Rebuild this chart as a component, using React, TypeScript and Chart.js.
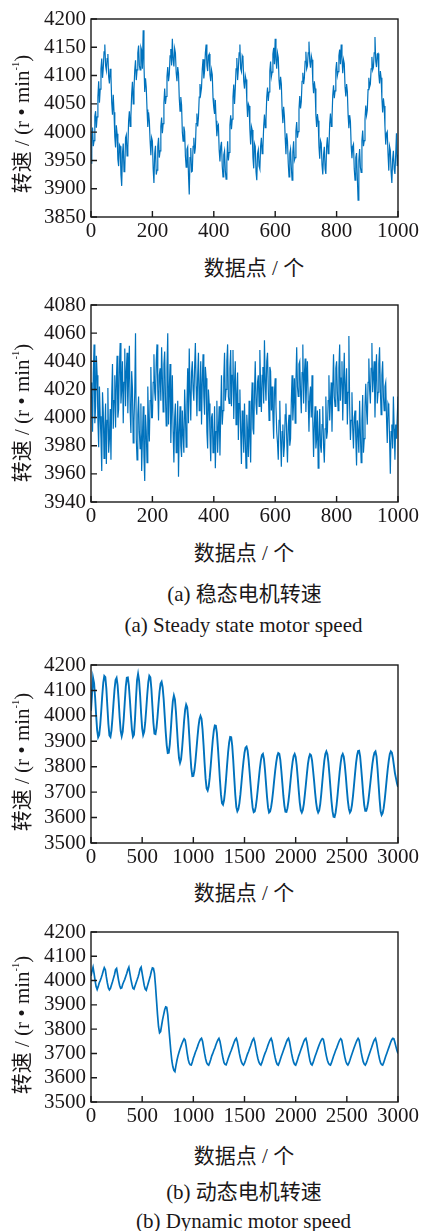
import React, { useEffect, useRef } from 'react';
import { Chart, registerables } from 'chart.js';

Chart.register(...registerables);

// ---------- data ----------
const STEP_STEADY = 2.5;
const STEP_DYNAMIC = 10;

const STEADY_SPEED_1 = [
  3945, 3992, 4008, 3975, 3985, 4028, 4037, 4008, 4027, 4062, 4090, 4052, 4076, 4112, 4130, 4096, 4113, 4142, 4155, 4118,
  4109, 4130, 4138, 4098, 4086, 4112, 4100, 4052, 4031, 4066, 4035, 3992, 3973, 4012, 3997, 3952, 3940, 3978, 3975, 3925,
  3905, 3962, 3980, 3930, 3932, 3990, 3995, 3958, 3972, 4020, 4037, 4010, 4029, 4068, 4089, 4050, 4076, 4110, 4127, 4092,
  4110, 4140, 4153, 4118, 4110, 4150, 4145, 4112, 4180, 4120, 4071, 4095, 4079, 4040, 4009, 4035, 4020, 3985, 3959, 3990,
  3984, 3935, 3910, 3962, 3976, 3925, 3933, 3975, 3990, 3955, 3967, 4010, 4026, 3998, 4015, 4052, 4077, 4050, 4063, 4098,
  4115, 4090, 4102, 4135, 4147, 4118, 4165, 4128, 4116, 4148, 4140, 4105, 4090, 4115, 4104, 4060, 4037, 4062, 4048, 4000,
  3984, 4010, 4001, 3958, 3938, 3970, 3974, 3925, 3890, 3955, 3972, 3930, 3931, 3975, 3990, 3962, 3973, 4015, 4033, 4010,
  4026, 4062, 4085, 4068, 4078, 4112, 4129, 4095, 4108, 4140, 4155, 4118, 4108, 4135, 4138, 4102, 4090, 4110, 4102, 4060,
  4043, 4032, 4057, 4020, 3993, 4010, 4013, 3968, 3948, 3975, 3983, 3940, 3921, 3960, 3967, 3932, 3917, 3948, 3984, 3950,
  3964, 4012, 4030, 4005, 4023, 4062, 4084, 4050, 4077, 4112, 4131, 4092, 4112, 4140, 4155, 4112, 4107, 4135, 4131, 4090,
  4077, 4100, 4093, 4055, 4027, 4050, 4046, 4005, 3978, 4010, 4004, 3955, 3936, 3980, 3975, 3930, 3915, 3962, 3969, 3940,
  3935, 3975, 3990, 3962, 3973, 4010, 4031, 4008, 4022, 4062, 4079, 4055, 4071, 4108, 4125, 4098, 4106, 4138, 4149, 4120,
  4165, 4128, 4112, 4140, 4132, 4092, 4075, 4098, 4085, 4040, 4016, 4045, 4028, 3990, 3961, 3998, 3984, 3945, 3921, 3962,
  3970, 3938, 3915, 3965, 3984, 3950, 3955, 4002, 4018, 3990, 4001, 4040, 4064, 4042, 4054, 4090, 4105, 4085, 4096, 4125,
  4142, 4112, 4117, 4140, 4160, 4125, 4114, 4135, 4128, 4088, 4069, 4090, 4077, 4030, 4009, 4032, 4020, 3975, 3953, 3985,
  3980, 3942, 3925, 3960, 3974, 3935, 3926, 3975, 3991, 3962, 3971, 4015, 4033, 4010, 4025, 4065, 4083, 4060, 4073, 4110,
  4124, 4100, 4107, 4135, 4146, 4120, 4155, 4132, 4104, 4128, 4121, 4080, 4063, 4085, 4072, 4030, 4007, 4030, 4019, 3975,
  3954, 3975, 3979, 3935, 3915, 3955, 3963, 3920, 3880, 3950, 3970, 3938, 3929, 3985, 4003, 3975, 3985, 4022, 4047, 4030,
  4039, 4075, 4096, 4080, 4085, 4112, 4133, 4110, 4115, 4140, 4168, 4125, 4115, 4138, 4139, 4102, 4086, 4108, 4096, 4060,
  4035, 4060, 4046, 4010, 3978, 3998, 4001, 3962, 3932, 3975, 3968, 3930, 3910, 3952, 3967, 3935, 3926, 3960, 3998, 3940,
  3960,
];

const STEADY_SPEED_2 = [
  4025, 4012, 3990, 4031, 4052, 3996, 4008, 4044, 4030, 3998, 3979, 4022, 4001, 3985, 3962, 4018, 4004, 3971, 3992, 4010,
  3967, 3998, 4021, 3975, 3985, 4006, 3970, 4016, 4038, 3992, 4012, 4030, 3993, 4025, 4044, 4000, 4006, 4035, 4053, 4010,
  4020, 4040, 3996, 4025, 4049, 4008, 4033, 4046, 4003, 4030, 4051, 4005, 3989, 4033, 4021, 3982, 3997, 4018, 4060, 3985,
  3970, 4002, 4015, 3990, 3978, 4010, 3962, 3985, 4008, 3972, 3955, 4002, 3990, 3968, 4022, 3996, 3983, 4012, 4036, 4000,
  4000, 4025, 4045, 4018, 4012, 4040, 4052, 4020, 3998, 4030, 4035, 4012, 4050, 4028, 4004, 4038, 4047, 4015, 3994, 4035,
  4060, 3995, 4019, 4038, 3982, 4005, 4030, 3990, 3968, 4000, 4010, 3975, 3985, 4012, 3958, 3990, 4008, 3980, 3972, 4005,
  3988, 3975, 4020, 4002, 3979, 4010, 4035, 3996, 4049, 4018, 3998, 4032, 4040, 4020, 4012, 4036, 4053, 4022, 4001, 4030,
  4046, 4005, 4018, 4040, 3995, 4025, 4045, 4015, 4002, 4036, 4028, 3990, 3978, 4020, 4010, 3988, 3969, 4000, 4003, 3975,
  3980, 4008, 3964, 3990, 4012, 3975, 3992, 4008, 3973, 4002, 4030, 3995, 4005, 4028, 4046, 4012, 4020, 4040, 4052, 4015,
  4010, 4035, 4048, 4008, 4030, 4048, 3999, 4025, 4040, 3995, 4015, 4032, 3984, 4010, 4020, 3990, 3967, 4005, 3994, 3975,
  4010, 3985, 3964, 4002, 3990, 3972, 4012, 3985, 3968, 4008, 4025, 3992, 3988, 4018, 4040, 4010, 4002, 4025, 4030, 4008,
  4048, 4022, 4004, 4030, 4036, 4010, 4055, 4025, 4012, 4040, 4046, 4020, 3998, 4036, 4033, 4005, 4022, 4002, 3985, 4018,
  4028, 4008, 3990, 3982, 3970, 3998, 4012, 3985, 3965, 3990, 3995, 3972, 3980, 4002, 4010, 3985, 3968, 3994, 4002, 3980,
  3985, 4012, 4030, 3998, 4011, 4028, 3996, 4025, 4050, 4022, 4015, 4038, 4040, 4018, 4003, 4032, 4052, 4010, 4030, 4042,
  4004, 4028, 4040, 4012, 3990, 4015, 4022, 4000, 4030, 3998, 3972, 3996, 4008, 3978, 3985, 4005, 3964, 3985, 4006, 3980,
  3975, 3995, 4008, 3980, 3968, 3992, 4015, 3985, 3990, 4012, 4030, 3998, 4012, 4025, 3990, 4020, 4045, 4015, 4008, 4035,
  4040, 4018, 4005, 4035, 4052, 4012, 4028, 4040, 3998, 4025, 4046, 4010, 4020, 4035, 3995, 4018, 4058, 4008, 3984, 3998,
  4018, 3992, 3978, 4000, 4005, 3985, 3966, 3998, 3990, 3975, 4012, 3988, 3968, 3998, 4016, 3975, 3985, 4008, 4024, 4005,
  3995, 4025, 4042, 4020, 4010, 4035, 4053, 4018, 4030, 4040, 4000, 4028, 4045, 4010, 4018, 4038, 4050, 4020, 4002, 4030,
  4040, 4015, 4005, 4022, 4025, 4000, 3982, 4010, 4008, 3985, 3960, 3990, 3995, 3978, 4015, 3992, 3970, 3995, 3985, 4000,
  4015,
];

const DYNAMIC_SPEED_1 = [
  4020, 4085, 4150, 4129, 4074, 4004, 3944, 3916, 3925, 3963,
  4019, 4080, 4131, 4157, 4152, 4107, 4037, 3968, 3923, 3917,
  3943, 3992, 4050, 4104, 4141, 4149, 4121, 4063, 3994, 3941,
  3920, 3938, 3989, 4054, 4115, 4150, 4151, 4119, 4064, 4001,
  3946, 3918, 3926, 3986, 4070, 4141, 4165, 4139, 4081, 4009,
  3951, 3925, 3937, 3974, 4028, 4085, 4133, 4158, 4152, 4107,
  4039, 3972, 3930, 3928, 3953, 3996, 4048, 4095, 4127, 4134,
  4113, 4067, 4002, 3937, 3884, 3854, 3855, 3888, 3945, 4009,
  4059, 4080, 4065, 4016, 3951, 3884, 3834, 3815, 3829, 3870,
  3924, 3981, 4024, 4044, 4034, 3989, 3924, 3853, 3794, 3763,
  3764, 3784, 3820, 3866, 3914, 3957, 3987, 4000, 3989, 3947,
  3885, 3814, 3752, 3714, 3706, 3722, 3757, 3804, 3856, 3905,
  3942, 3962, 3961, 3933, 3877, 3814, 3748, 3691, 3657, 3651,
  3668, 3704, 3753, 3807, 3858, 3896, 3917, 3916, 3883, 3825,
  3755, 3690, 3641, 3625, 3633, 3656, 3691, 3735, 3781, 3821,
  3855, 3875, 3879, 3864, 3828, 3779, 3727, 3677, 3638, 3621,
  3624, 3642, 3673, 3712, 3753, 3793, 3825, 3845, 3850, 3831,
  3788, 3735, 3682, 3640, 3620, 3624, 3641, 3669, 3705, 3746,
  3785, 3817, 3842, 3854, 3851, 3827, 3784, 3735, 3685, 3646,
  3623, 3622, 3637, 3666, 3703, 3745, 3786, 3819, 3842, 3850,
  3838, 3805, 3758, 3706, 3659, 3629, 3620, 3630, 3654, 3691,
  3731, 3773, 3811, 3836, 3849, 3845, 3825, 3786, 3744, 3698,
  3659, 3632, 3620, 3628, 3653, 3692, 3738, 3783, 3824, 3850,
  3860, 3849, 3817, 3770, 3717, 3665, 3625, 3603, 3602, 3619,
  3650, 3690, 3736, 3780, 3816, 3842, 3850, 3839, 3807, 3763,
  3712, 3666, 3634, 3620, 3627, 3649, 3684, 3727, 3772, 3814,
  3844, 3862, 3863, 3841, 3795, 3745, 3692, 3649, 3627, 3627,
  3641, 3665, 3700, 3737, 3775, 3811, 3838, 3855, 3860, 3841,
  3792, 3732, 3672, 3625, 3610, 3617, 3637, 3670, 3710, 3752,
  3792, 3825, 3850, 3860, 3855, 3835, 3805, 3775, 3755, 3735,
  3720,
];

const DYNAMIC_SPEED_2 = [
  4020, 4040, 4055, 4030, 4000, 3975, 3963, 3975, 3990, 4000,
  4012, 4025, 4040, 4053, 4045, 4015, 3990, 3970, 3962, 3968,
  3982, 3995, 4010, 4025, 4045, 4050, 4025, 4000, 3980, 3968,
  3970, 3985, 3995, 4005, 4018, 4030, 4045, 4055, 4030, 4005,
  3985, 3968, 3965, 3978, 3990, 4002, 4015, 4030, 4048, 4055,
  4030, 4005, 3980, 3965, 3960, 3975, 3990, 4005, 4020, 4038,
  4052, 4050, 4030, 3980, 3920, 3860, 3810, 3785, 3790, 3815,
  3840, 3860, 3880, 3892, 3890, 3860, 3810, 3760, 3710, 3670,
  3645, 3630, 3625, 3650, 3672, 3690, 3705, 3718, 3730, 3742,
  3752, 3760, 3755, 3730, 3700, 3675, 3660, 3653, 3652, 3665,
  3680, 3692, 3705, 3715, 3727, 3740, 3750, 3758, 3762, 3750,
  3725, 3700, 3678, 3662, 3655, 3652, 3662, 3675, 3690, 3700,
  3712, 3722, 3735, 3746, 3756, 3762, 3750, 3728, 3702, 3680,
  3662, 3655, 3653, 3665, 3678, 3690, 3702, 3712, 3724, 3736,
  3748, 3757, 3762, 3748, 3725, 3700, 3680, 3665, 3656, 3652,
  3660, 3672, 3685, 3698, 3708, 3720, 3732, 3745, 3756, 3762,
  3748, 3724, 3700, 3680, 3665, 3656, 3652, 3662, 3675, 3688,
  3700, 3710, 3722, 3735, 3746, 3756, 3762, 3750, 3726, 3702,
  3682, 3665, 3655, 3652, 3662, 3675, 3688, 3700, 3712, 3724,
  3736, 3748, 3757, 3762, 3748, 3724, 3700, 3680, 3664, 3655,
  3652, 3663, 3676, 3690, 3702, 3714, 3726, 3738, 3750, 3758,
  3762, 3745, 3718, 3692, 3670, 3656, 3652, 3662, 3675, 3688,
  3700, 3712, 3724, 3736, 3746, 3755, 3761, 3758, 3738, 3712,
  3690, 3672, 3660, 3654, 3652, 3662, 3675, 3688, 3700, 3712,
  3722, 3734, 3745, 3755, 3761, 3755, 3732, 3708, 3686, 3668,
  3657, 3652, 3660, 3672, 3685, 3698, 3710, 3722, 3734, 3745,
  3755, 3762, 3755, 3730, 3705, 3684, 3666, 3656, 3652, 3660,
  3672, 3685, 3698, 3710, 3722, 3735, 3747, 3757, 3762, 3745,
  3720, 3696, 3676, 3661, 3654, 3652, 3662, 3675, 3688, 3700,
  3712, 3724, 3736, 3748, 3757, 3762, 3760, 3745, 3728, 3712,
  3700,
];

const X_TICKS_STEADY = [0, 200, 400, 600, 800, 1000];
const X_TICKS_DYNAMIC = [0, 500, 1000, 1500, 2000, 2500, 3000];
const Y_TICKS_1 = [3850, 3900, 3950, 4000, 4050, 4100, 4150, 4200];
const Y_TICKS_2 = [3940, 3960, 3980, 4000, 4020, 4040, 4060, 4080];
const Y_TICKS_3 = [3500, 3600, 3700, 3800, 3900, 4000, 4100, 4200];
const Y_TICKS_4 = [3500, 3600, 3700, 3800, 3900, 4000, 4100, 4200];

const Y_TITLE_MAIN = '转速 / (r • min';
const Y_TITLE_SUP = '-1';
const X_TITLE = '数据点 / 个';
const CAPTION_A_CN = '(a) 稳态电机转速';
const CAPTION_A_EN = '(a) Steady state motor speed';
const CAPTION_B_CN = '(b) 动态电机转速';
const CAPTION_B_EN = '(b) Dynamic motor speed';

// ---------- styling ----------
const LINE_COLOR = '#0072BD';
const TEXT_COLOR = '#1a1718';
const SERIF = "'Liberation Serif', 'Times New Roman', serif";
const FONT_FAMILY = "'Liberation Serif', 'Times New Roman', 'Noto Sans CJK SC', serif";
const TICK_FONT_SIZE = 21;
const PLOT_LEFT = 91;
const PLOT_RIGHT = 398;
const W = 421;
const X_AXIS_H = 30;

const framePlugin = {
  id: 'frame',
  afterDraw(chart: any) {
    const { ctx, chartArea: a, scales } = chart;
    ctx.save();
    ctx.strokeStyle = '#1a1a1a';
    ctx.lineWidth = 1.4;
    ctx.strokeRect(a.left, a.top, a.right - a.left, a.bottom - a.top);
    ctx.beginPath();
    const tl = 6;
    scales.x.ticks.forEach((t: any) => {
      const px = scales.x.getPixelForValue(t.value);
      ctx.moveTo(px, a.bottom);
      ctx.lineTo(px, a.bottom - tl);
    });
    scales.y.ticks.forEach((t: any) => {
      const py = scales.y.getPixelForValue(t.value);
      ctx.moveTo(a.left, py);
      ctx.lineTo(a.left + tl, py);
    });
    ctx.stroke();
    ctx.restore();
  },
};

type PanelProps = {
  values: number[];
  step: number;
  xTicks: number[];
  yTicks: number[];
  plotTop: number;
  plotBottom: number;
  lineWidth: number;
};

function Panel({ values, step, xTicks, yTicks, plotTop, plotBottom, lineWidth }: PanelProps) {
  const ref = useRef<HTMLCanvasElement>(null);
  const padTop = 19;
  const canvasTop = plotTop - padTop;
  const canvasH = padTop + (plotBottom - plotTop) + X_AXIS_H;

  useEffect(() => {
    const canvas = ref.current;
    if (!canvas) return;
    const font = { family: SERIF, size: TICK_FONT_SIZE };
    const chart = new Chart(canvas, {
      type: 'line',
      data: {
        datasets: [
          {
            data: values.map((v, i) => ({ x: i * step, y: v })),
            borderColor: LINE_COLOR,
            borderWidth: lineWidth,
            pointRadius: 0,
            tension: 0,
            fill: false,
          },
        ],
      },
      options: {
        responsive: false,
        animation: false,
        events: [],
        layout: { padding: { top: padTop, right: W - PLOT_RIGHT, left: 0, bottom: 0 } },
        plugins: { legend: { display: false }, tooltip: { enabled: false } },
        scales: {
          x: {
            type: 'linear',
            min: xTicks[0],
            max: xTicks[xTicks.length - 1],
            grid: { display: false, drawTicks: false },
            border: { display: false },
            ticks: {
              font,
              color: TEXT_COLOR,
              padding: 2,
              maxRotation: 0,
              autoSkip: false,
              callback: (v: any) => String(v),
            },
            afterBuildTicks: (s: any) => {
              s.ticks = xTicks.map((v) => ({ value: v }));
            },
            afterFit: (s: any) => {
              s.height = X_AXIS_H;
            },
          },
          y: {
            type: 'linear',
            min: yTicks[0],
            max: yTicks[yTicks.length - 1],
            grid: { display: false, drawTicks: false },
            border: { display: false },
            ticks: {
              font,
              color: TEXT_COLOR,
              padding: 5,
              autoSkip: false,
              callback: (v: any) => String(v),
            },
            afterBuildTicks: (s: any) => {
              s.ticks = yTicks.map((v) => ({ value: v }));
            },
            afterFit: (s: any) => {
              s.width = PLOT_LEFT;
            },
          },
        },
      },
      plugins: [framePlugin],
    } as any);
    let alive = true;
    const fonts: any = (document as any).fonts;
    if (fonts && fonts.load) {
      fonts
        .load(`${TICK_FONT_SIZE}px "Liberation Serif"`)
        .then(() => {
          if (alive) chart.update();
        })
        .catch(() => {});
    }
    return () => {
      alive = false;
      chart.destroy();
    };
  }, []);

  return (
    <canvas
      ref={ref}
      width={W}
      height={canvasH}
      style={{ position: 'absolute', left: 0, top: canvasTop, width: W, height: canvasH }}
    />
  );
}

const textBase: React.CSSProperties = {
  position: 'absolute',
  whiteSpace: 'nowrap',
  fontFamily: FONT_FAMILY,
  fontSize: 21,
  lineHeight: 1,
  color: TEXT_COLOR,
};

function CenterText({ cx, cy, children, rotate }: { cx: number; cy: number; children: React.ReactNode; rotate?: boolean }) {
  return (
    <div
      style={{
        ...textBase,
        left: cx,
        top: cy,
        transform: rotate ? 'translate(-50%, -50%) rotate(-90deg)' : 'translate(-50%, -50%)',
      }}
    >
      {children}
    </div>
  );
}

function YTitle({ cy }: { cy: number }) {
  return (
    <CenterText cx={22} cy={cy} rotate>
      {Y_TITLE_MAIN}
      <sup style={{ fontSize: '0.5em', verticalAlign: '0.9em' }}>{Y_TITLE_SUP}</sup>)
    </CenterText>
  );
}

export default function App() {
  return (
    <div style={{ position: 'absolute', left: 0, top: 0, width: W, height: 1231, background: '#fff' }}>
      <Panel values={STEADY_SPEED_1} step={STEP_STEADY} xTicks={X_TICKS_STEADY} yTicks={Y_TICKS_1} plotTop={19} plotBottom={217} lineWidth={1.2} />
      <Panel values={STEADY_SPEED_2} step={STEP_STEADY} xTicks={X_TICKS_STEADY} yTicks={Y_TICKS_2} plotTop={305} plotBottom={502} lineWidth={1.2} />
      <Panel values={DYNAMIC_SPEED_1} step={STEP_DYNAMIC} xTicks={X_TICKS_DYNAMIC} yTicks={Y_TICKS_3} plotTop={665} plotBottom={843} lineWidth={1.9} />
      <Panel values={DYNAMIC_SPEED_2} step={STEP_DYNAMIC} xTicks={X_TICKS_DYNAMIC} yTicks={Y_TICKS_4} plotTop={932} plotBottom={1102} lineWidth={1.7} />

      <YTitle cy={123.5} />
      <YTitle cy={412.5} />
      <YTitle cy={761.5} />
      <YTitle cy={1024.5} />

      <CenterText cx={254} cy={268}>{X_TITLE}</CenterText>
      <CenterText cx={244} cy={552.5}>{X_TITLE}</CenterText>
      <CenterText cx={244} cy={892.5}>{X_TITLE}</CenterText>
      <CenterText cx={244} cy={1156}>{X_TITLE}</CenterText>

      <CenterText cx={244.5} cy={594}>{CAPTION_A_CN}</CenterText>
      <CenterText cx={243.5} cy={625}>{CAPTION_A_EN}</CenterText>
      <CenterText cx={244} cy={1192}>{CAPTION_B_CN}</CenterText>
      <CenterText cx={243.5} cy={1221}>{CAPTION_B_EN}</CenterText>
    </div>
  );
}
